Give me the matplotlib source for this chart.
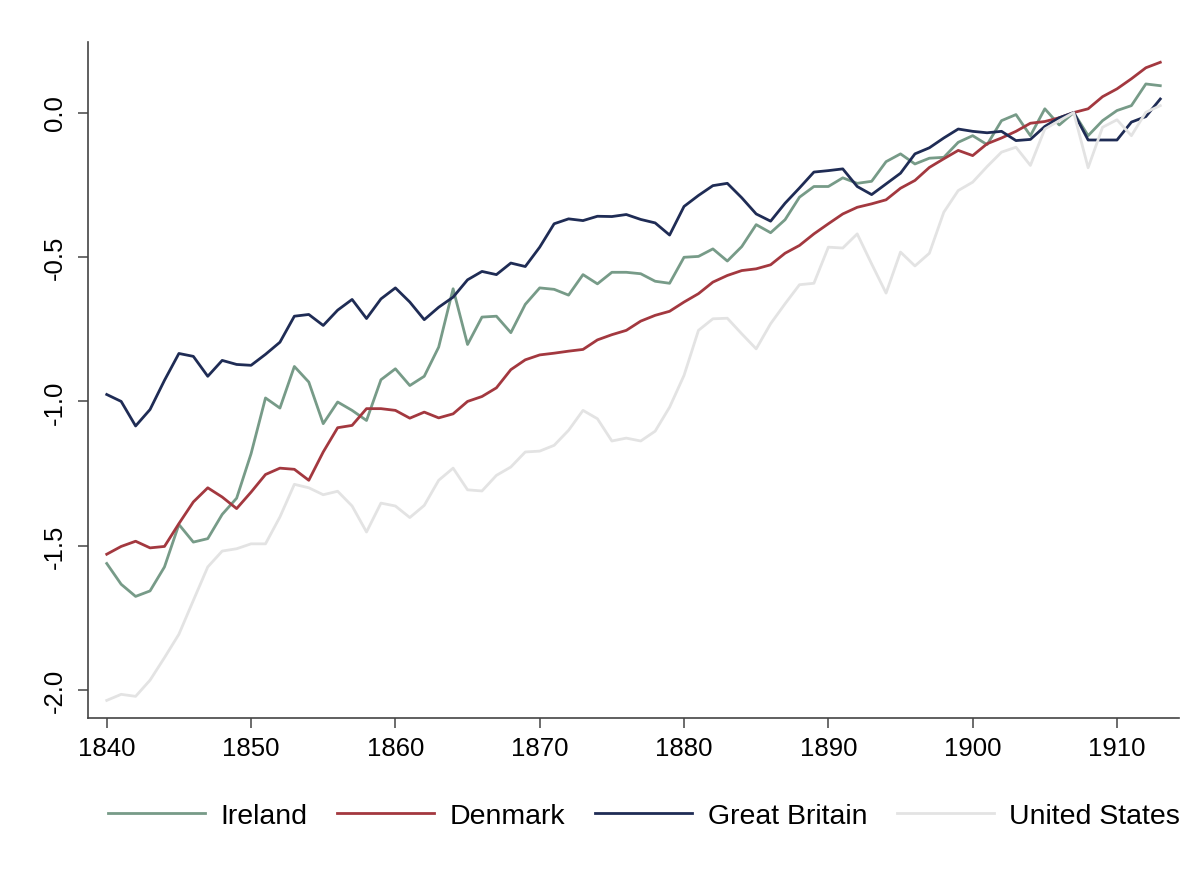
import numpy as np
import matplotlib
matplotlib.use("Agg")
import matplotlib.pyplot as plt
import matplotlib.ticker as ticker

plt.rcParams['font.family'] = ['Liberation Sans', 'DejaVu Sans']

years = np.arange(1840, 1914)

ireland = [-1.561, -1.633, -1.675, -1.656, -1.573, -1.426, -1.487, -1.475, -1.391, -1.335,
           -1.181, -0.988, -1.023, -0.879, -0.933, -1.077, -1.002, -1.031, -1.066, -0.925,
           -0.887, -0.945, -0.913, -0.812, -0.610, -0.803, -0.708, -0.705, -0.762, -0.664,
           -0.607, -0.612, -0.632, -0.561, -0.593, -0.553, -0.553, -0.558, -0.584, -0.591,
           -0.501, -0.498, -0.472, -0.514, -0.464, -0.388, -0.416, -0.371, -0.293, -0.256,
           -0.256, -0.226, -0.245, -0.238, -0.170, -0.143, -0.178, -0.158, -0.155, -0.103,
           -0.080, -0.111, -0.028, -0.007, -0.080, 0.013, -0.043, 0.0, -0.080, -0.028,
           0.007, 0.024, 0.099, 0.093]

denmark = [-1.529, -1.502, -1.484, -1.507, -1.502, -1.423, -1.348, -1.299, -1.331, -1.371,
           -1.314, -1.253, -1.231, -1.235, -1.273, -1.175, -1.091, -1.083, -1.025, -1.025,
           -1.031, -1.058, -1.037, -1.057, -1.043, -1.0, -0.983, -0.953, -0.890, -0.856,
           -0.839, -0.833, -0.826, -0.820, -0.787, -0.769, -0.754, -0.722, -0.702, -0.688,
           -0.656, -0.627, -0.587, -0.564, -0.547, -0.541, -0.527, -0.487, -0.460, -0.420,
           -0.385, -0.351, -0.328, -0.316, -0.302, -0.262, -0.235, -0.190, -0.160, -0.131,
           -0.149, -0.108, -0.088, -0.065, -0.037, -0.031, -0.018, 0.0, 0.013, 0.055,
           0.082, 0.117, 0.155, 0.174]

great_britain = [-0.976, -1.0, -1.085, -1.028, -0.927, -0.834, -0.844, -0.913, -0.858, -0.872,
                 -0.875, -0.837, -0.795, -0.705, -0.699, -0.737, -0.684, -0.647, -0.713, -0.645,
                 -0.607, -0.656, -0.717, -0.674, -0.639, -0.579, -0.550, -0.561, -0.521, -0.533,
                 -0.466, -0.385, -0.368, -0.374, -0.359, -0.360, -0.353, -0.370, -0.382, -0.424,
                 -0.325, -0.287, -0.253, -0.245, -0.295, -0.351, -0.376, -0.314, -0.261, -0.206,
                 -0.201, -0.195, -0.256, -0.284, -0.247, -0.210, -0.143, -0.122, -0.088, -0.057,
                 -0.065, -0.070, -0.065, -0.097, -0.093, -0.048, -0.018, 0.0, -0.095, -0.095,
                 -0.095, -0.033, -0.014, 0.047]

united_states = [-2.035, -2.014, -2.021, -1.965, -1.887, -1.806, -1.689, -1.573, -1.518, -1.510,
                 -1.493, -1.493, -1.400, -1.287, -1.299, -1.323, -1.311, -1.362, -1.452, -1.352,
                 -1.362, -1.402, -1.360, -1.273, -1.231, -1.306, -1.310, -1.256, -1.227, -1.175,
                 -1.172, -1.152, -1.100, -1.031, -1.060, -1.137, -1.127, -1.137, -1.103, -1.020,
                 -0.910, -0.754, -0.714, -0.712, -0.766, -0.818, -0.731, -0.662, -0.596, -0.591,
                 -0.466, -0.469, -0.420, -0.524, -0.625, -0.483, -0.531, -0.487, -0.345, -0.270,
                 -0.241, -0.187, -0.137, -0.120, -0.183, -0.057, -0.028, 0.0, -0.191, -0.051,
                 -0.025, -0.080, 0.001, 0.024]

series = [("Ireland", ireland, "#779b88"),
          ("Denmark", denmark, "#a3383f"),
          ("Great Britain", great_britain, "#1f2c55"),
          ("United States", united_states, "#e3e3e3")]

fig = plt.figure(figsize=(11.97, 8.79), dpi=100)
ax = fig.add_axes([0.0735, 0.182, 0.9115, 0.769])

for name, vals, col in series:
    ax.plot(years, vals, color=col, lw=2.0, label=name)

ax.set_xlim(1838.7, 1914.3)
ax.set_ylim(-2.096, 0.244)
ax.xaxis.set_major_locator(ticker.MultipleLocator(10))
ax.set_yticks([-2.0, -1.5, -1.0, -0.5, 0.0])
ax.yaxis.set_major_formatter(ticker.FormatStrFormatter('%.1f'))

for s in ['top', 'right']:
    ax.spines[s].set_visible(False)
for s in ['left', 'bottom']:
    ax.spines[s].set_color('#444444')
    ax.spines[s].set_linewidth(1.2)
ax.tick_params(direction='out', length=7, width=1.1, color='#444444', labelsize=18.5, pad=6)
ax.tick_params(axis='y', pad=8)
for lab in ax.get_yticklabels():
    lab.set_rotation(90)
    lab.set_va('center')

fig.legend(loc='center', bbox_to_anchor=(0.538, 0.0705), ncol=4, frameon=False,
           fontsize=20.5, handlelength=3.4, handletextpad=0.55, columnspacing=1.05)

fig.savefig("out.png", dpi=100)
